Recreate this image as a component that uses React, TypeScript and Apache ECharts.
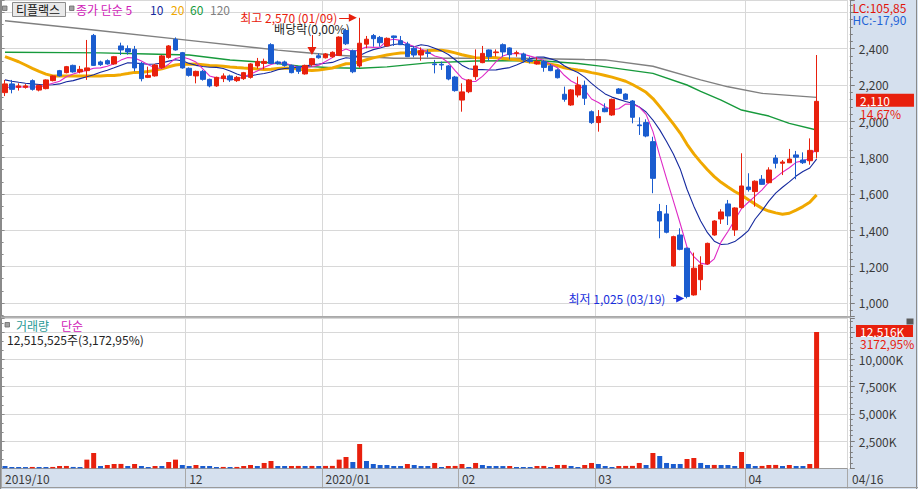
import React, { useEffect, useRef } from "react";
import * as echarts from "echarts";

// ---------- trading days (categories) ----------
const monthKeys = ["2019/10", "2019/11", "2019/12", "2020/01", "2020/02", "2020/03", "2020/04"];
const monthDays = [
  [24, 25, 28, 29, 30, 31],
  [1, 4, 5, 6, 7, 8, 11, 12, 13, 14, 15, 18, 19, 20, 21, 22, 25, 26, 27, 28, 29],
  [2, 3, 4, 5, 6, 9, 10, 11, 12, 13, 16, 17, 18, 19, 20, 23, 24, 26, 27, 30],
  [2, 3, 6, 7, 8, 9, 10, 13, 14, 15, 16, 17, 20, 21, 22, 23, 28, 29, 30, 31],
  [3, 4, 5, 6, 7, 10, 11, 12, 13, 14, 17, 18, 19, 20, 21, 24, 25, 26, 27, 28],
  [2, 3, 4, 5, 6, 9, 10, 11, 12, 13, 16, 17, 18, 19, 20, 23, 24, 25, 26, 27, 30, 31],
  [1, 2, 3, 6, 7, 8, 9, 10, 13, 14, 16],
];
const tickDates = ["2019/10/24", "2019/12/02", "2020/01/02", "2020/02/03", "2020/03/02", "2020/04/01"];
const tickLabels = ["2019/10", "12", "2020/01", "02", "03", "04"];
const padSlots = 4;

// ---------- price data ----------
const opens = [
  2158, 2206, 2187, 2187, 2224, 2172, 2180, 2224, 2279, 2268,
  2308, 2272, 2279, 2473, 2327, 2334, 2316, 2415, 2400, 2396,
  2319, 2242, 2250, 2297, 2352, 2451, 2378, 2292, 2250, 2275,
  2231, 2195, 2235, 2250, 2224, 2235, 2242, 2305, 2319, 2422,
  2327, 2327, 2308, 2301, 2261, 2312, 2361, 2350, 2355, 2363,
  2500, 2389, 2305, 2425, 2472, 2462, 2415, 2470, 2444, 2426,
  2402, 2365, 2378, 2316, 2314, 2305, 2244, 2117, 2163, 2246,
  2323, 2393, 2378, 2422, 2404, 2374, 2371, 2338, 2316, 2329,
  2305, 2283, 2149, 2090, 2145, 2198, 2053, 1993, 2072, 2035,
  2178, 2150, 2112, 1980, 1993, 1888, 1503, 1490, 1204, 1374,
  1301, 1044, 1128, 1215, 1374, 1462, 1545, 1402, 1525, 1638,
  1613, 1681, 1662, 1798, 1769, 1772, 1815, 1787, 1783, 1833,
];
const closes = [
  2206, 2176, 2195, 2195, 2176, 2198, 2228, 2250, 2250, 2301,
  2272, 2286, 2294, 2308, 2312, 2316, 2356, 2393, 2382, 2294,
  2235, 2253, 2310, 2360, 2415, 2393, 2294, 2253, 2275, 2231,
  2195, 2242, 2250, 2228, 2242, 2268, 2316, 2330, 2330, 2319,
  2319, 2308, 2268, 2275, 2308, 2345, 2350, 2371, 2380, 2464,
  2427, 2273, 2430, 2452, 2455, 2433, 2457, 2461, 2422, 2356,
  2365, 2389, 2374, 2312, 2310, 2233, 2169, 2162, 2228, 2305,
  2374, 2356, 2382, 2382, 2367, 2378, 2338, 2329, 2330, 2297,
  2279, 2240, 2121, 2173, 2200, 2127, 1993, 2026, 2053, 2121,
  2154, 2121, 2022, 1976, 1919, 1686, 1451, 1389, 1365, 1295,
  1035, 1191, 1209, 1328, 1451, 1501, 1479, 1523, 1644, 1624,
  1670, 1653, 1732, 1769, 1776, 1792, 1802, 1772, 1840, 2110,
];
const lows = [
  2139, 2154, 2169, 2180, 2169, 2165, 2176, 2220, 2246, 2264,
  2268, 2264, 2228, 2305, 2305, 2312, 2312, 2365, 2367, 2275,
  2220, 2238, 2246, 2290, 2345, 2389, 2290, 2246, 2209, 2224,
  2187, 2190, 2216, 2217, 2217, 2228, 2235, 2290, 2286, 2316,
  2312, 2301, 2264, 2261, 2257, 2305, 2345, 2346, 2350, 2360,
  2420, 2265, 2295, 2402, 2411, 2411, 2411, 2415, 2420, 2354,
  2352, 2334, 2352, 2264, 2283, 2226, 2163, 2053, 2155, 2228,
  2320, 2334, 2356, 2356, 2341, 2356, 2323, 2319, 2312, 2273,
  2276, 2236, 2108, 2085, 2132, 2090, 1985, 1943, 2050, 2030,
  2150, 2117, 1989, 1925, 1912, 1604, 1356, 1383, 1200, 1290,
  1025, 1040, 1070, 1210, 1370, 1435, 1429, 1369, 1520, 1613,
  1530, 1650, 1658, 1741, 1704, 1770, 1681, 1765, 1761, 1796,
];
const highs = [
  2228, 2228, 2209, 2205, 2231, 2202, 2231, 2253, 2283, 2305,
  2312, 2305, 2448, 2481, 2334, 2341, 2360, 2433, 2418, 2415,
  2327, 2301, 2316, 2365, 2420, 2462, 2382, 2297, 2279, 2283,
  2235, 2246, 2264, 2257, 2250, 2272, 2320, 2349, 2345, 2430,
  2334, 2334, 2312, 2305, 2312, 2349, 2374, 2376, 2385, 2468,
  2510, 2395, 2570, 2470, 2481, 2470, 2462, 2472, 2470, 2438,
  2415, 2407, 2396, 2338, 2329, 2310, 2250, 2209, 2233, 2396,
  2415, 2396, 2396, 2429, 2407, 2389, 2378, 2356, 2352, 2338,
  2316, 2290, 2191, 2178, 2246, 2224, 2060, 2062, 2099, 2125,
  2183, 2154, 2117, 2022, 2011, 1915, 1545, 1539, 1370, 1411,
  1305, 1277, 1257, 1332, 1455, 1516, 1567, 1527, 1824, 1714,
  1675, 1704, 1747, 1815, 1787, 1848, 1837, 1829, 1906, 2365,
];
const volumes = [
  214000, 122000, 118000, 115000, 124000, 120000, 117000, 125000, 210000, 215000,
  125000, 120000, 796000, 1408000, 214000, 306000, 398000, 402000, 214000, 398000,
  214000, 122000, 214000, 210000, 581000, 796000, 306000, 214000, 306000, 214000,
  210000, 122000, 126000, 122000, 126000, 214000, 306000, 214000, 490000, 673000,
  214000, 210000, 214000, 218000, 214000, 218000, 214000, 218000, 222000, 796000,
  1040000, 581000, 2234000, 673000, 398000, 306000, 302000, 214000, 210000, 398000,
  306000, 214000, 210000, 490000, 122000, 214000, 218000, 398000, 122000, 490000,
  306000, 214000, 210000, 206000, 214000, 122000, 120000, 118000, 214000, 218000,
  122000, 306000, 310000, 214000, 122000, 306000, 490000, 398000, 214000, 122000,
  214000, 218000, 222000, 490000, 306000, 1408000, 1132000, 490000, 398000, 394000,
  857000, 949000, 490000, 306000, 310000, 306000, 302000, 214000, 1500000, 398000,
  214000, 218000, 306000, 310000, 214000, 306000, 214000, 210000, 394445, 12515525,
];

// moving-average values before the visible window is long enough
const ma5Head = [2187, 2188, 2190, 2189];
const ma10Head = [2228, 2221, 2215, 2210, 2206, 2203, 2200, 2201, 2206];
const ma20Head = [2356, 2342, 2328, 2310, 2292, 2275, 2260, 2250, 2250, 2250, 2250, 2250, 2250, 2250, 2250, 2252, 2252, 2257, 2263];
// long averages: [candle index, value]
const ma60Points = [
  [0, 2380], [9, 2378], [14, 2377], [21, 2371], [27, 2365], [33, 2338], [38, 2325], [43, 2305],
  [48, 2295], [52, 2292], [56, 2300], [62, 2322], [69, 2332], [78, 2335], [84, 2318], [87, 2305],
  [95, 2264], [100, 2200], [102, 2165], [105, 2117], [108, 2062], [112, 2029], [115, 1989], [119, 1952],
];
const ma120Points = [
  [0, 2554], [13, 2503], [26, 2450], [40, 2392], [43, 2382], [48, 2365], [57, 2347], [75, 2347],
  [85, 2340], [88, 2338], [95, 2303], [102, 2228], [106, 2190], [111, 2154], [119, 2132],
];
const exDivIndex = 45;
const exDivArrow = [2475, 2387];
const exDivText = "배당락(0,00%)";

// ---------- derived ----------
const pad2 = (n: number) => (n < 10 ? "0" + n : "" + n);
const categories: string[] = [];
monthKeys.forEach((m, k) => monthDays[k].forEach((d) => categories.push(`${m}/${pad2(d)}`)));
const nData = categories.length;
const axisCats = categories.concat(Array.from({ length: padSlots }, (_, k) => `_${k}`));
const tickIdx = tickDates.map((d) => categories.indexOf(d));
const isTick = (i: number) => tickIdx.indexOf(i) >= 0;

const comma = (n: number) => Math.round(n).toString().replace(/\B(?=(\d{3})+(?!\d))/g, ",");
const dec2 = (x: number, thousands = false) => {
  const [a, b] = x.toFixed(2).split(".");
  return (thousands ? comma(+a) : a) + "," + b;
};

function sma(n: number, head: number[]) {
  return closes.map((_, i) => {
    if (i < n - 1) return head[i] ?? null;
    let s = 0;
    for (let k = i - n + 1; k <= i; k++) s += closes[k];
    return +(s / n).toFixed(1);
  });
}

const RED = "#e8200d";
const BLUE = "#1a5ccf";
const LOWBLUE = "#1830dc";
const GRID = "#d8d8d8";
const PANEL = "#d5e0ee";
const AXIS = "#7c7c7c";
const LBL = "#3a3a3a";
const CLEAR = "rgba(0,0,0,0)";
const FONT = '"Noto Sans CJK KR", "Noto Sans", sans-serif';

const last = nData - 1;
const lastClose = closes[last];
const prevClose = closes[last - 1];
const hiIdx = highs.indexOf(Math.max(...highs));
const loIdx = lows.indexOf(Math.min(...lows));
const hi = highs[hiIdx];
const lo = lows[loIdx];
const lastVol = volumes[last];
const volRatio = (lastVol / volumes[last - 1]) * 100;

const gridLeft = 1.6;
const slot = 6.82;
const gridWidth = slot * axisCats.length;

function buildOption() {
  const candle = categories.map((_, i) => [opens[i], closes[i], lows[i], highs[i]]);
  const volData = volumes.map((v, i) => ({
    value: v,
    itemStyle: { color: i > 0 && v > volumes[i - 1] ? RED : BLUE },
  }));
  const txt = (text: string, x: number, y: number, fill: string, size = 12) => ({
    type: "text",
    x,
    y,
    z: 100,
    silent: true,
    style: { text, fill, fontSize: size, fontFamily: FONT, align: "left", verticalAlign: "middle" },
  });
  const priceLabelFmt = (v: number) => (v % 200 === 0 && v < 2600 ? comma(v) : "");
  const volLabelFmt = (v: number) => (v > 0 && v < 11000000 ? comma(v / 1000) + "K" : "");

  return {
    animation: false,
    backgroundColor: "#ffffff",
    grid: [
      { left: gridLeft, top: 0, width: gridWidth, height: 316 },
      { left: gridLeft, top: 318, width: gridWidth, height: 150.3 },
    ],
    xAxis: [
      {
        type: "category",
        gridIndex: 0,
        data: axisCats,
        boundaryGap: true,
        axisLine: { show: false },
        axisTick: { show: false },
        axisLabel: { show: false },
        splitLine: { show: true, interval: (i: number) => isTick(i), lineStyle: { color: GRID } },
      },
      {
        type: "category",
        gridIndex: 1,
        data: axisCats,
        boundaryGap: true,
        axisLine: { show: true, lineStyle: { color: "#9a9a9a" } },
        axisTick: { show: true, interval: (i: number) => isTick(i), length: 20, lineStyle: { color: "#a8a8a8" } },
        axisLabel: {
          show: true,
          interval: (i: number) => isTick(i),
          formatter: (_v: string, i: number) => (isTick(i) ? tickLabels[tickIdx.indexOf(i)] : ""),
          align: "left",
          margin: 4,
          color: LBL,
          fontSize: 12,
          fontFamily: FONT,
        },
        splitLine: { show: true, interval: (i: number) => isTick(i), lineStyle: { color: GRID } },
      },
    ],
    yAxis: [
      {
        type: "value",
        gridIndex: 0,
        position: "right",
        min: 928,
        max: 2668,
        splitNumber: 8,
        minInterval: 200,
        maxInterval: 200,
        offset: 2.5,
        axisLine: { show: true, lineStyle: { color: AXIS } },
        axisTick: { show: true, length: 5, lineStyle: { color: AXIS } },
        minorTick: { show: true, splitNumber: 5, length: 3, lineStyle: { color: AXIS } },
        minorSplitLine: { show: false },
        axisLabel: { margin: 9, color: LBL, fontSize: 12, fontFamily: FONT, formatter: priceLabelFmt },
        splitLine: { show: true, lineStyle: { color: GRID } },
      },
      {
        type: "value",
        gridIndex: 0,
        position: "left",
        min: 928,
        max: 2668,
        splitNumber: 8,
        minInterval: 200,
        maxInterval: 200,
        axisLine: { show: true, lineStyle: { color: "#8a8a8a" } },
        axisTick: { show: true, inside: true, length: 3, lineStyle: { color: "#8a8a8a" } },
        minorTick: { show: true, splitNumber: 3, length: 2, lineStyle: { color: "#8a8a8a" } },
        axisLabel: { show: false },
        splitLine: { show: false },
      },
      {
        type: "value",
        gridIndex: 1,
        position: "right",
        min: 0,
        max: 13813000,
        interval: 2500000,
        offset: 2.5,
        axisLine: { show: true, lineStyle: { color: AXIS } },
        axisTick: { show: true, length: 5, lineStyle: { color: AXIS } },
        minorTick: { show: true, splitNumber: 5, length: 3, lineStyle: { color: AXIS } },
        axisLabel: { margin: 9, color: LBL, fontSize: 12, fontFamily: FONT, formatter: volLabelFmt },
        splitLine: { show: true, lineStyle: { color: GRID } },
      },
      {
        type: "value",
        gridIndex: 1,
        position: "left",
        min: 0,
        max: 13813000,
        interval: 2500000,
        axisLine: { show: true, lineStyle: { color: "#8a8a8a" } },
        axisTick: { show: true, inside: true, length: 3, lineStyle: { color: "#8a8a8a" } },
        minorTick: { show: true, splitNumber: 3, length: 2, lineStyle: { color: "#8a8a8a" } },
        axisLabel: { show: false },
        splitLine: { show: false },
      },
    ],
    series: [
      {
        name: "120",
        type: "line",
        xAxisIndex: 0,
        yAxisIndex: 0,
        data: ma120Points,
        showSymbol: false,
        symbol: "none",
        silent: true,
        z: 2,
        lineStyle: { color: "#808080", width: 1.4 },
      },
      {
        name: "60",
        type: "line",
        xAxisIndex: 0,
        yAxisIndex: 0,
        data: ma60Points,
        showSymbol: false,
        symbol: "none",
        silent: true,
        z: 2,
        lineStyle: { color: "#179a3c", width: 1.4 },
      },
      {
        name: "20",
        type: "line",
        xAxisIndex: 0,
        yAxisIndex: 0,
        data: sma(20, ma20Head),
        showSymbol: false,
        symbol: "none",
        silent: true,
        z: 2,
        lineStyle: { color: "#f0a800", width: 3 },
      },
      {
        name: "10",
        type: "line",
        xAxisIndex: 0,
        yAxisIndex: 0,
        data: sma(10, ma10Head),
        showSymbol: false,
        symbol: "none",
        silent: true,
        z: 2,
        lineStyle: { color: "#15299e", width: 1.1 },
      },
      {
        name: "5",
        type: "line",
        xAxisIndex: 0,
        yAxisIndex: 0,
        data: sma(5, ma5Head),
        showSymbol: false,
        symbol: "none",
        silent: true,
        z: 2,
        lineStyle: { color: "#de2ac6", width: 1.1 },
      },
      {
        name: "price",
        type: "candlestick",
        xAxisIndex: 0,
        yAxisIndex: 0,
        data: candle,
        barWidth: 5,
        z: 5,
        itemStyle: { color: RED, color0: BLUE, borderColor: RED, borderColor0: BLUE, borderWidth: 1 },
        markLine: {
          silent: true,
          animation: false,
          symbol: ["none", "none"],
          data: [
            {
              yAxis: lastClose,
              lineStyle: { color: CLEAR, width: 0, opacity: 1 },
              label: {
                show: true,
                opacity: 1,
                position: "end",
                distance: 8.7,
                offset: [0, 5.5],
                formatter: `{a|${comma(lastClose)}}\n{b|${dec2((lastClose / prevClose - 1) * 100)}%}`,
                rich: {
                  a: { color: "#fff", backgroundColor: RED, width: 50, height: 13, lineHeight: 14, padding: [0, 4], fontSize: 12, fontFamily: FONT },
                  b: { color: RED, lineHeight: 13, padding: [0, 4], fontSize: 12, fontFamily: FONT },
                },
              },
            },
            [
              {
                coord: [hiIdx - 3, hi],
                symbol: "none",
                lineStyle: { color: RED, width: 1, type: "solid", opacity: 1 },
                label: {
                  show: true,
                  position: "start",
                  distance: 2,
                  formatter: `최고 ${comma(hi)} (${categories[hiIdx].slice(5)})`,
                  color: RED,
                  fontSize: 12,
                  fontFamily: FONT,
                },
              },
              { coord: [hiIdx - 1, hi], symbol: "triangle", symbolSize: [8, 8] },
            ],
            [
              {
                coord: [exDivIndex, exDivArrow[0]],
                symbol: "none",
                lineStyle: { color: RED, width: 1, type: "solid", opacity: 1 },
                label: { show: true, position: "start", distance: 1, formatter: exDivText, color: "#1e1e1e", fontSize: 12, fontFamily: FONT },
              },
              { coord: [exDivIndex, exDivArrow[1]], symbol: "triangle", symbolSize: [9, 8] },
            ],
            [
              {
                coord: [loIdx - 2, lo],
                symbol: "none",
                lineStyle: { color: LOWBLUE, width: 1, type: "solid", opacity: 1 },
                label: {
                  show: true,
                  position: "start",
                  distance: 8,
                  formatter: `최저 ${comma(lo)} (${categories[loIdx].slice(5)})`,
                  color: LOWBLUE,
                  fontSize: 12,
                  fontFamily: FONT,
                },
              },
              { coord: [loIdx - 1, lo], symbol: "triangle", symbolSize: [8, 8] },
            ],
          ],
        },
      },
      {
        name: "volume",
        type: "bar",
        xAxisIndex: 1,
        yAxisIndex: 2,
        data: volData,
        barWidth: 5,
        z: 5,
        markLine: {
          silent: true,
          animation: false,
          symbol: ["none", "none"],
          data: [
            {
              yAxis: lastVol,
              lineStyle: { color: CLEAR, width: 0, opacity: 1 },
              label: {
                show: true,
                opacity: 1,
                position: "end",
                distance: 8.7,
                offset: [0, 5],
                formatter: `{a|${comma(lastVol / 1000)}K}\n{b|${dec2(volRatio)}%}`,
                rich: {
                  a: { color: "#fff", backgroundColor: RED, width: 49, height: 12, lineHeight: 12.5, padding: [0, 4], fontSize: 12, fontFamily: FONT },
                  b: { color: RED, lineHeight: 12, padding: [0, 4], fontSize: 12, fontFamily: FONT },
                },
              },
            },
          ],
        },
      },
    ],
    graphic: [
      { type: "rect", z: -10, silent: true, shape: { x: 850, y: 0, width: 68, height: 470 }, style: { fill: PANEL } },
      { type: "rect", z: -10, silent: true, shape: { x: 0, y: 469, width: 918, height: 20 }, style: { fill: PANEL } },
      { type: "line", z: 50, silent: true, shape: { x1: 0, y1: 317, x2: 850, y2: 317 }, style: { stroke: "#9a9a9a", lineWidth: 1.5 } },
      { type: "line", z: 50, silent: true, shape: { x1: 916.5, y1: 0, x2: 916.5, y2: 489 }, style: { stroke: "#8a8a8a", lineWidth: 1 } },
      { type: "line", z: 50, silent: true, shape: { x1: 0, y1: 487.5, x2: 918, y2: 487.5 }, style: { stroke: "#9a9a9a", lineWidth: 1 } },
      { type: "line", z: 50, silent: true, shape: { x1: 0.5, y1: 0, x2: 0.5, y2: 489 }, style: { stroke: "#8a8a8a", lineWidth: 1 } },
      // title legend
      { type: "rect", z: 90, silent: true, shape: { x: 2.5, y: 6, width: 4.5, height: 4.5 }, style: { fill: "#a0a0a0", stroke: "#6a6a6a", lineWidth: 0.8 } },
      { type: "rect", z: 90, silent: true, shape: { x: 12.5, y: 2.5, width: 53, height: 14 }, style: { fill: "#e9e9e9", stroke: "#8c8c8c", lineWidth: 1 } },
      { type: "rect", z: 90, silent: true, shape: { x: 69.5, y: 6, width: 4.5, height: 4.5 }, style: { fill: "#a0a0a0", stroke: "#6a6a6a", lineWidth: 0.8 } },
      txt("티플랙스", 16, 9.8, "#111"),
      txt("종가 단순 5", 76, 9.8, "#d020b8"),
      txt("10", 150, 9.8, "#15299e"),
      txt("20", 171, 9.8, "#f0a800"),
      txt("60", 190, 9.8, "#179a3c"),
      txt("120", 210, 9.8, "#808080"),
      txt(`LC:${dec2(((lastClose - lo) / lo) * 100)}`, 852.5, 7, "#e0140a"),
      txt(`HC:${dec2(((lastClose - hi) / hi) * 100)}`, 852.5, 19.5, "#1f63d6"),
      // volume legend
      { type: "rect", z: 90, silent: true, shape: { x: 5, y: 322.5, width: 4.5, height: 4.5 }, style: { fill: "#a0a0a0", stroke: "#6a6a6a", lineWidth: 0.8 } },
      txt("거래량", 16, 325.3, "#2a9a96"),
      txt("단순", 61, 325.3, "#d020b8"),
      txt(`${comma(lastVol)}주(${dec2(volRatio, true)}%)`, 7, 339.7, "#222"),
      { type: "rect", z: 90, silent: true, shape: { x: 906.5, y: 318.5, width: 7, height: 6 }, style: { fill: "#5a5a5a" } },
      txt(categories[last].slice(5), 852, 478.5, LBL),
    ],
  };
}

export default function App() {
  const ref = useRef<HTMLDivElement>(null);
  useEffect(() => {
    if (!ref.current) return;
    const chart = echarts.init(ref.current, undefined, { renderer: "svg" });
    chart.setOption(buildOption() as any);
    return () => chart.dispose();
  }, []);
  return (
    <div
      ref={ref}
      style={{ position: "fixed", left: 0, top: 0, width: 918, height: 489, background: "#fff" }}
    />
  );
}
